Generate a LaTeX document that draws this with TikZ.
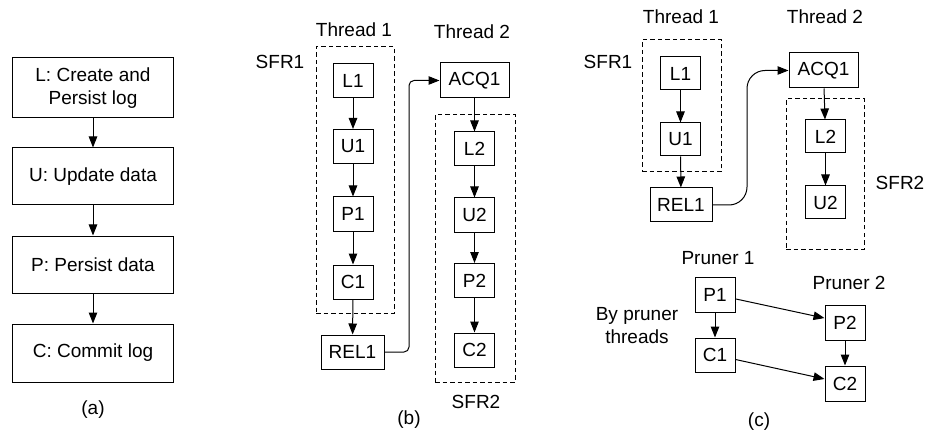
\documentclass[tikz,border=0pt]{standalone}
\usepackage{fontspec}
\setmainfont{Liberation Sans}
\usetikzlibrary{arrows.meta}
\begin{document}
\begin{tikzpicture}[x=1pt,y=-1pt,
  every node/.style={font=\fontsize{19}{23}\selectfont, inner sep=0pt},
  box/.style={draw, line width=1pt, minimum width=#1, minimum height=34pt},
  box/.default=40pt,
  frame/.style={draw, line width=1pt, dash pattern=on 4.5pt off 3pt},
  arr/.style={line width=1pt, -{Triangle[length=11pt,width=8.5pt]}},
  lbl/.style={align=center}]
\useasboundingbox (0,0) rectangle (925,438);

% ---- (a) the four steps of a failure-atomic region
\node[box=161pt, minimum height=60pt, align=center] (aL) at (93,88) {L: Create and\\Persist log};
\node[box=161pt, minimum height=57pt] (aU) at (93,176.5) {U: Update data};
\node[box=161pt, minimum height=57pt] (aP) at (93,264.5) {P: Persist data};
\node[box=161pt, minimum height=58pt] (aC) at (93,353) {C: Commit log};
\draw[arr] (aL) -- (aU);
\draw[arr] (aU) -- (aP);
\draw[arr] (aP) -- (aC);
\node (capa) at (93,410) {(a)};

% ---- (b) two threads, every step on the critical path
\node[frame, minimum width=78pt, minimum height=266pt] (bF1) at (355,180) {};
\node[frame, minimum width=80pt, minimum height=267pt] (bF2) at (475,248.5) {};
\node (bT1) at (354,30) {Thread 1};
\node (bT2) at (472,32) {Thread 2};
\node (bS1) at (280,62) {SFR1};
\node (bS2) at (476,402) {SFR2};
\node[box] (bL1) at (353,81) {L1};
\node[box] (bU1) at (353,146.5) {U1};
\node[box] (bP1) at (353,214) {P1};
\node[box] (bC1) at (353,282) {C1};
\node[box=63pt] (bREL1) at (352.5,352) {REL1};
\node[box=69pt, minimum height=35pt] (bACQ1) at (474.5,80.5) {ACQ1};
\node[box] (bL2) at (474.5,149) {L2};
\node[box] (bU2) at (474.5,215) {U2};
\node[box] (bP2) at (474.5,280.5) {P2};
\node[box] (bC2) at (474.5,350) {C2};
\draw[arr] (bL1) -- (bU1);
\draw[arr] (bU1) -- (bP1);
\draw[arr] (bP1) -- (bC1);
\draw[arr] (bC1) -- (bREL1);
\draw[arr] (bACQ1) -- (bL2);
\draw[arr] (bL2) -- (bU2);
\draw[arr] (bU2) -- (bP2);
\draw[arr] (bP2) -- (bC2);
\coordinate (bturn) at (409,0);
\draw[arr, rounded corners=5pt] (bREL1.east) -| (bturn |- bACQ1.west) -- (bACQ1.west);
\node (capb) at (409,420) {(b)};

% ---- (c) persist and commit moved to pruner threads
\node[frame, minimum width=79pt, minimum height=132pt] (cF1) at (681.5,106) {};
\node[frame, minimum width=78pt, minimum height=150pt] (cF2) at (825,174) {};
\node (cT1) at (681,17) {Thread 1};
\node (cT2) at (825,17) {Thread 2};
\node (cS1) at (608,62) {SFR1};
\node (cS2) at (900,183) {SFR2};
\node[box, minimum height=33pt] (cL1) at (680.5,73.5) {L1};
\node[box, minimum height=33pt] (cU1) at (680.5,139.5) {U1};
\node[box=62pt] (cREL1) at (681,205) {REL1};
\node[box=69pt, minimum height=35pt] (cACQ1) at (823.5,70.5) {ACQ1};
\node[box, minimum height=33pt] (cL2) at (825.5,136.5) {L2};
\node[box, minimum height=33pt] (cU2) at (825.5,202.5) {U2};
\draw[arr] (cL1) -- (cU1);
\draw[arr] (cU1) -- (cREL1);
\draw[arr] (cACQ1) -- (cL2);
\draw[arr] (cL2) -- (cU2);
\coordinate (cturn) at (747,0);
\draw[arr, rounded corners=18pt] (cREL1.east) -| (cturn |- cACQ1.west) -- (cACQ1.west);

\node (cPr1) at (718,258) {Pruner 1};
\node (cPr2) at (849,283) {Pruner 2};
\node[lbl] (cBy) at (637,326) {By pruner\\threads};
\node[box, minimum height=35pt] (cP1) at (715,294.5) {P1};
\node[box] (cC1) at (715,355) {C1};
\node[box, minimum height=35pt] (cP2) at (845,322.5) {P2};
\node[box, minimum height=35pt] (cC2) at (845,383.5) {C2};
\draw[arr] (cP1) -- (cC1);
\draw[arr] (cP2) -- (cC2);
\draw[arr] (cP1) -- (cP2);
\draw[arr] (cC1) -- (cC2);
\node (capc) at (759,422) {(c)};
\end{tikzpicture}
\end{document}
